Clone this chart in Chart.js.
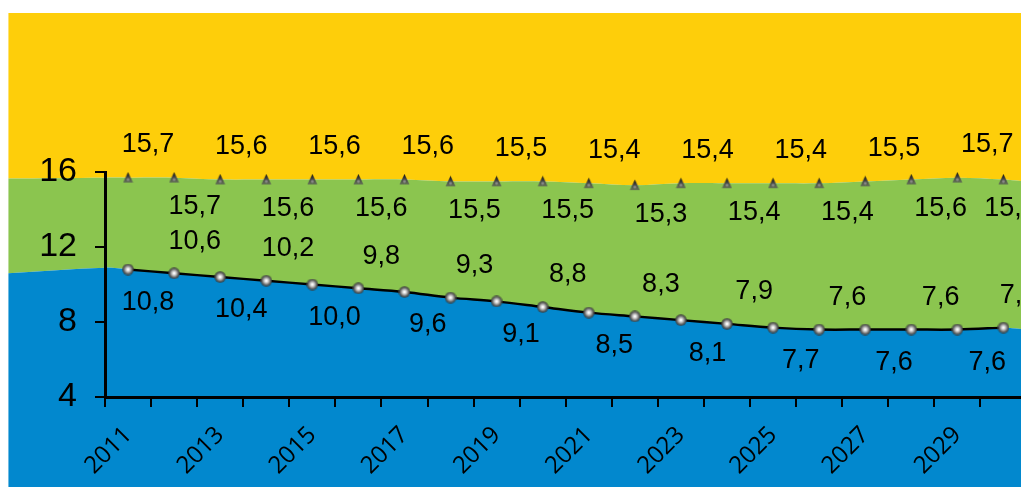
<!DOCTYPE html>
<html><head><meta charset="utf-8">
<script src="https://cdn.jsdelivr.net/npm/chart.js@4"></script>
<style>
html,body{margin:0;padding:0;background:#fff;}
#wrap{position:relative;width:1021px;height:487px;overflow:hidden;}
canvas{position:absolute;left:0;top:0;}
</style></head><body>
<div id="wrap"><canvas id="bg" width="1038" height="487"></canvas><canvas id="fg" width="1038" height="487"></canvas></div>
<script>
// ---- data ----
const years = [2011,2012,2013,2014,2015,2016,2017,2018,2019,2020,2021,2022,2023,2024,2025,2026,2027,2028,2029,2030];
const lowerValues = [10.8,10.6,10.4,10.2,10.0,9.8,9.6,9.3,9.1,8.8,8.5,8.3,8.1,7.9,7.7,7.6,7.6,7.6,7.6,7.7];
const upperValues = [15.7,15.7,15.6,15.6,15.6,15.6,15.6,15.5,15.5,15.5,15.4,15.3,15.4,15.4,15.4,15.4,15.5,15.6,15.7,15.6];
const yTicks = [4,8,12,16];
// background bands reach past the plot on both sides
const bandLeftYears = [2008.4, 2010.5];
const bandRightYears = [2030.5];
const blueBandLeft = [10.6, 10.9];
const blueBandRight = [7.6];
const greenBandLeft = [15.65, 15.7];
const greenBandRight = [15.5];

const CW = 1038;
const BLUE = '#0288CE', GREEN = '#8BC54F', YELLOW = '#FECE0A';
const fmt = v => v.toFixed(1).replace('.', ',');

// marker images
function roundMarker(){
  const c = document.createElement('canvas'); c.width = 12; c.height = 12;
  const g = c.getContext('2d');
  const gr = g.createRadialGradient(6,6,0.5,6,6,6);
  gr.addColorStop(0,'#ffffff'); gr.addColorStop(0.3,'#c4c4c4'); gr.addColorStop(0.7,'#5e5e5e'); gr.addColorStop(1,'rgba(50,50,50,0.55)');
  g.fillStyle = gr; g.beginPath(); g.arc(6,6,6,0,Math.PI*2); g.fill();
  return c;
}
function triMarker(){
  const c = document.createElement('canvas'); c.width = 11; c.height = 12;
  const g = c.getContext('2d');
  const gr = g.createLinearGradient(0,0,0,12);
  gr.addColorStop(0,'#000'); gr.addColorStop(0.45,'#444'); gr.addColorStop(1,'rgba(90,90,90,0.7)');
  g.fillStyle = gr; g.beginPath(); g.moveTo(5.5,0.5); g.lineTo(10.5,11); g.lineTo(0.5,11); g.closePath(); g.fill();
  g.fillStyle = '#8a8a8a'; g.beginPath(); g.arc(5.5,8,1.4,0,Math.PI*2); g.fill();
  return c;
}
const mRound = roundMarker(), mTri = triMarker();

const valueLabels = {
  id: 'valueLabels',
  afterDatasetsDraw(chart){
    const ctx = chart.ctx;
    ctx.save();
    ctx.font = "27px 'Liberation Sans', Arial, sans-serif";
    ctx.fillStyle = '#000'; ctx.textAlign = 'center'; ctx.textBaseline = 'middle';
    chart.data.datasets.forEach((ds, di) => {
      const meta = chart.getDatasetMeta(di);
      const last = meta.data.length - 1;
      meta.data.forEach((pt, i) => {
        const isUpper = di === 1;
        const above = isUpper ? (i % 2 === 0) : (i % 2 === 1);
        const dy = isUpper ? (above ? -33 : 29) : (above ? -32 : 33);
        const dx = i === last ? (isUpper ? 7 : 15) : 20 + 0.55 * i;
        ctx.fillText(fmt(ds.data[i]), pt.x + dx, pt.y + dy);
      });
    });
    ctx.restore();
  }
};

const fg = new Chart(document.getElementById('fg'), {
  type: 'line',
  data: {
    labels: years.map(String),
    datasets: [
      { data: lowerValues, borderColor: '#000', borderWidth: 2.5, tension: 0.35, fill: false,
        pointStyle: mRound, pointRadius: 6 },
      { data: upperValues, showLine: false, fill: false, pointStyle: mTri, pointRadius: 5 }
    ]
  },
  options: {
    responsive: false, animation: false, devicePixelRatio: 1,
    layout: { padding: { left: 0, right: 5, top: 172, bottom: 0 } },
    plugins: { legend: { display: false }, tooltip: { enabled: false } },
    scales: {
      x: {
        offset: true,
        grid: { offset: true, drawOnChartArea: false, drawTicks: true, tickLength: 10, color: '#000', lineWidth: 2 },
        border: { display: true, color: '#000', width: 3 },
        ticks: { autoSkip: false, minRotation: 45, maxRotation: 45, padding: 14, color: '#000',
          font: { family: "'Open Sans', sans-serif", size: 24 },
          callback: (v, i) => (i % 2 === 0 ? String(years[i]) : '') },
        afterFit: s => { s.height = 90; }
      },
      y: {
        min: 4, max: 16,
        afterBuildTicks: s => { s.ticks = yTicks.map(v => ({ value: v })); },
        grid: { drawOnChartArea: false, drawTicks: true, tickLength: 10, color: '#000', lineWidth: 2 },
        border: { display: true, color: '#000', width: 3 },
        ticks: { padding: 18, color: '#000', font: { family: "'Liberation Sans', Arial, sans-serif", size: 34 } },
        afterFit: s => { s.width = 105; }
      }
    }
  },
  plugins: [valueLabels]
});

// background bands aligned to the front chart's scales
const fx = fg.scales.x, fy = fg.scales.y;
const px0 = fx.getPixelForTick(0), dpx = fx.getPixelForTick(1) - px0;
const BG_LEFT = 8, BG_RIGHT = 1021, BG_TOP = 13, BG_BOTTOM = 487;
const xMin = years[0] + (BG_LEFT - px0) / dpx;
const xMax = years[0] + (BG_RIGHT - px0) / dpx;
const yMin = fy.getValueForPixel(BG_BOTTOM);
const yMax = fy.getValueForPixel(BG_TOP);

const bandYears = [...bandLeftYears, ...years, ...bandRightYears];
const blueTop = [...blueBandLeft, ...lowerValues, ...blueBandRight];
const greenTop = [...greenBandLeft, ...upperValues, ...greenBandRight];
const pts = arr => bandYears.map((x, i) => ({ x, y: arr[i] }));

new Chart(document.getElementById('bg'), {
  type: 'line',
  data: {
    datasets: [
      { data: pts(blueTop), fill: 'start', backgroundColor: BLUE, borderWidth: 0, pointRadius: 0, tension: 0.35 },
      { data: pts(greenTop), fill: '-1', backgroundColor: GREEN, borderWidth: 0, pointRadius: 0, tension: 0.35 },
      { data: pts(greenTop), fill: 'end', backgroundColor: YELLOW, borderWidth: 0, pointRadius: 0, tension: 0.35 }
    ]
  },
  options: {
    responsive: false, animation: false, devicePixelRatio: 1,
    layout: { padding: { left: BG_LEFT, right: CW - BG_RIGHT, top: BG_TOP, bottom: 487 - BG_BOTTOM } },
    plugins: { legend: { display: false }, tooltip: { enabled: false } },
    scales: {
      x: { type: 'linear', display: false, min: xMin, max: xMax },
      y: { display: false, min: yMin, max: yMax }
    }
  }
});
</script>
</body></html>
